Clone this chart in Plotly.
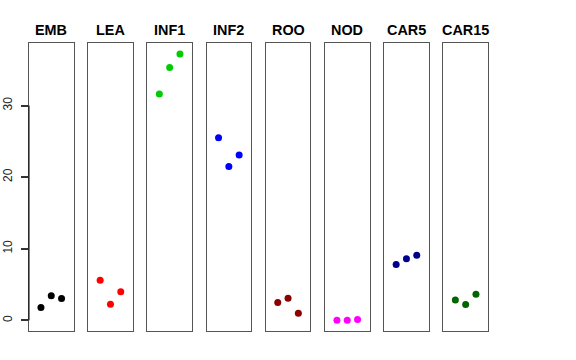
import plotly.graph_objects as go

panels = ["EMB", "LEA", "INF1", "INF2", "ROO", "NOD", "CAR5", "CAR15"]
colors = ["#000000", "#FF0000", "#00CD00", "#0000FF", "#8B0000", "#FF00FF", "#00008B", "#006400"]
reps = [1, 2, 3]
values = [
    [1.8, 3.45, 3.05],
    [5.6, 2.25, 4.0],
    [31.6, 35.3, 37.2],
    [25.5, 21.5, 23.1],
    [2.5, 3.1, 0.98],
    [0.02, 0.02, 0.1],
    [7.8, 8.6, 9.1],
    [2.85, 2.2, 3.65],
]
yticks = [0, 10, 20, 30]

W, H = 576, 360
left0, pitch, pw = 29.0, 59.2, 44.5
top_px, bot_px = 43.3, 331.0
title_px = 29.5
ydom = [1 - bot_px / H, 1 - top_px / H]
ymin, ymax = -1.49, 38.69

fig = go.Figure()
layout = dict(
    width=W, height=H,
    margin=dict(l=0, r=0, t=0, b=0, pad=0, autoexpand=False),
    paper_bgcolor="white", plot_bgcolor="white",
    showlegend=False,
    font=dict(family="Liberation Sans, Arial, sans-serif", color="black"),
)
annotations = []
shapes = []
for i, (name, col, vals) in enumerate(zip(panels, colors, values)):
    k = "" if i == 0 else str(i + 1)
    x0 = (left0 + i * pitch) / W
    x1 = (left0 + i * pitch + pw) / W
    fig.add_trace(go.Scatter(
        x=reps, y=vals, mode="markers",
        marker=dict(color=col, size=7),
        xaxis="x" + k, yaxis="y" + k, cliponaxis=False,
    ))
    layout["xaxis" + k] = dict(
        domain=[x0, x1], range=[-0.16, 4.16], showticklabels=False, ticks="",
        showgrid=False, zeroline=False, showline=True, mirror=True,
        linecolor="#555555", linewidth=1, anchor="y" + k, automargin=False,
    )
    ya = dict(
        domain=ydom, range=[ymin, ymax], showgrid=False, zeroline=False,
        showline=True, mirror=True, linecolor="#555555", linewidth=1,
        anchor="x" + k, automargin=False,
    )
    if i == 0:
        ya.update(tickmode="array", tickvals=yticks, ticks="outside", ticklen=7,
                  tickcolor="#333333", tickwidth=2, tickangle=-90, ticklabelstandoff=4,
                  tickfont=dict(size=12, color="#222"), showticklabels=True)
    else:
        ya.update(showticklabels=False, ticks="")
    layout["yaxis" + k] = ya
    annotations.append(dict(
        text="<b>" + name + "</b>", x=(x0 + x1) / 2, y=1 - title_px / H,
        xref="paper", yref="paper", showarrow=False,
        font=dict(size=14.4, color="black"), xanchor="center", yanchor="middle",
    ))

shapes.append(dict(type="line", xref="paper", yref="y",
                   x0=left0 / W, x1=left0 / W, y0=yticks[0], y1=yticks[-1],
                   line=dict(color="black", width=1)))
layout["annotations"] = annotations
layout["shapes"] = shapes
fig.update_layout(**layout)
fig.write_html("out.html", config={"displayModeBar": False},
               post_script="document.body.style.margin='0';")
